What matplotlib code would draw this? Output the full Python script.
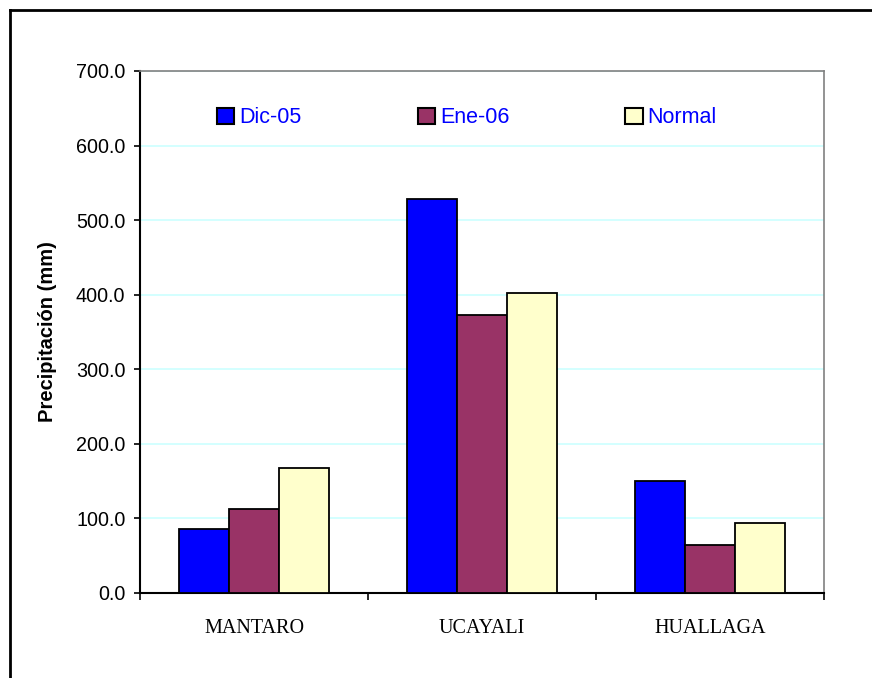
import matplotlib.pyplot as plt
import numpy as np
from matplotlib.lines import Line2D

# data
cuencas = ['MANTARO', 'UCAYALI', 'HUALLAGA']
series = ['Dic-05', 'Ene-06', 'Normal']
dic05 = [86.0, 528.5, 150.0]
ene06 = [112.5, 373.0, 64.5]
normal = [167.0, 402.5, 94.0]
colores = ['#0000FF', '#993366', '#FFFFCC']

W, H = 872, 678
fig = plt.figure(figsize=(W / 100, H / 100), dpi=100)

# outer chart frame (only left and top edges fall inside the picture)
fig.add_artist(Line2D([10 / W, 10 / W], [0, 1 - 10 / H], color='black', lw=2, transform=fig.transFigure))
fig.add_artist(Line2D([10 / W, 1], [1 - 10 / H, 1 - 10 / H], color='black', lw=2, transform=fig.transFigure))

x0, x1, y0, y1 = 140, 824, 71, 592.7
ax = fig.add_axes([x0 / W, 1 - y1 / H, (x1 - x0) / W, (y1 - y0) / H])

x = np.arange(len(cuencas))
w = 0.219
for i, (vals, nombre) in enumerate(zip([dic05, ene06, normal], series)):
    ax.bar(x + (i - 1) * w, vals, width=w, color=colores[i], edgecolor='black',
           linewidth=1.3, label=nombre, zorder=3)

ax.set_xlim(-0.5, 2.5)
ax.set_ylim(0, 700)
ax.set_yticks(np.arange(0, 701, 100))
ax.set_yticklabels([f'{v:.1f}' for v in np.arange(0, 701, 100)],
                   fontfamily='Liberation Sans', fontsize=14.2)
ax.tick_params(axis='y', direction='out', length=4.5, width=1.2, pad=6)
ax.grid(axis='y', color='#CCFFFF', linewidth=1.2, zorder=0)

ax.set_xticks(x)
ax.set_xticklabels(cuencas, fontfamily='Liberation Serif', fontsize=14.5)
ax.tick_params(axis='x', length=0, pad=19)
ax.set_xticks([-0.5, 0.5, 1.5, 2.5], minor=True)
ax.tick_params(axis='x', which='minor', direction='out', length=5, width=1.2)

for s in ['left', 'bottom']:
    ax.spines[s].set_color('black')
    ax.spines[s].set_linewidth(1.5)
for s in ['top', 'right']:
    ax.spines[s].set_color('#808080')
    ax.spines[s].set_linewidth(1.2)

ax.set_ylabel('Precipitación (mm)', fontfamily='Liberation Sans', fontsize=14.5, fontweight='bold')
ax.yaxis.set_label_coords((57 - x0) / (x1 - x0), 0.5)

leg = ax.legend(ncol=3, loc='center left', bbox_to_anchor=(0.1126, 0.910),
                frameon=False, handlelength=0.8, handleheight=0.8,
                handletextpad=0.23, columnspacing=5.4, borderpad=0, borderaxespad=0,
                prop={'family': 'Liberation Sans', 'size': 15.5})
for t in leg.get_texts():
    t.set_color('#0000FF')
for p in leg.legend_handles:
    p.set_linewidth(1.5)

fig.savefig('out.png', dpi=100)
